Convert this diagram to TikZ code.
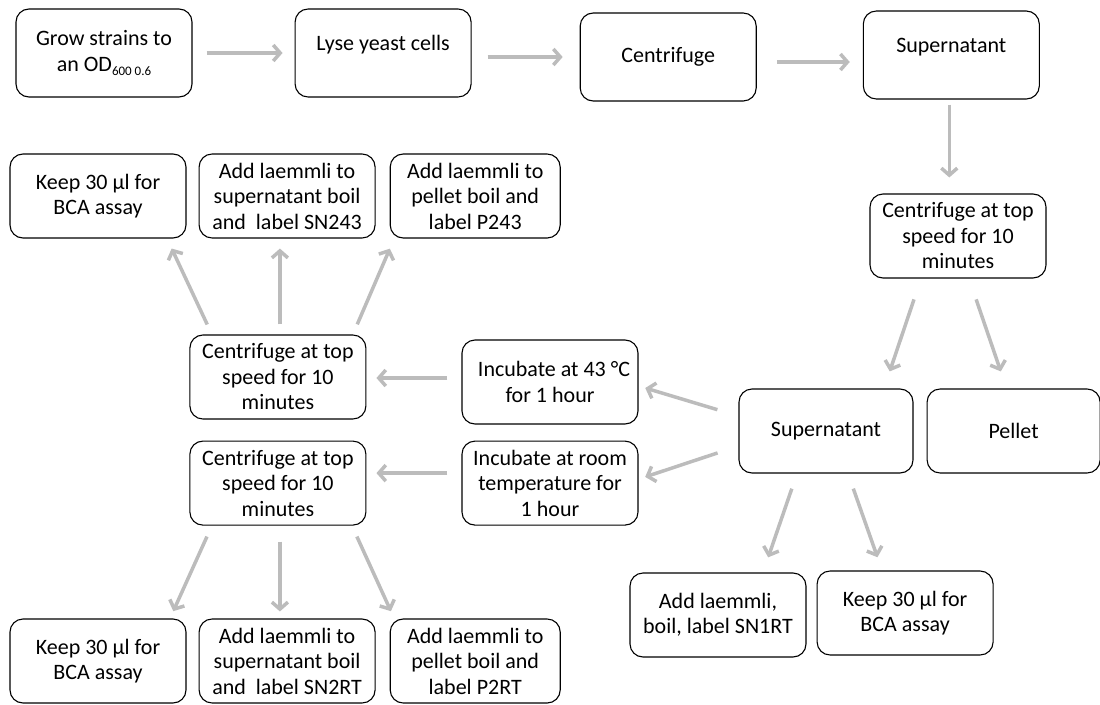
\documentclass[tikz,border=0pt]{standalone}
\usepackage{fontspec}
\setmainfont{Carlito}
\usepackage{xcolor}
\usepackage{tikz}
\usetikzlibrary{arrows.meta, positioning}

\definecolor{arrowgrey}{RGB}{188,188,188}
\newcommand{\lowtext}[1]{\raisebox{-0.35ex}{\fontsize{13}{13}\selectfont #1}}
\newcommand{\hightext}[1]{\raisebox{20pt}{#1}}

\begin{document}
\begin{tikzpicture}[
  x=1pt, y=-1pt,
  every node/.style={font=\fontsize{22}{25.5}\selectfont},
  stepblock/.style={rectangle, rounded corners=13pt, draw=black, line width=1.1pt,
                fill=white, inner sep=2pt, align=center,
                minimum width=176pt, minimum height=84pt},
  topblock/.style={stepblock, minimum height=88pt},
  arr/.style={-{Straight Barb[length=7pt, width=16pt]}, line width=3.5pt, arrowgrey}
]
  \useasboundingbox (0,0) rectangle (1100,704);

  \node[topblock] (A) at (104,53) {Grow strains to\\an OD\lowtext{600 0.6}};
  \node[topblock, right=102pt of A] (B) {\hightext{Lyse yeast cells}};
  \node[topblock, right=108pt of B, yshift=-4pt] (C) {Centrifuge};
  \node[topblock, right=106pt of C, yshift=2pt] (D) {\hightext{Supernatant}};

  \node[stepblock] (E) at (958,236) {Centrifuge at top\\speed for 10\\minutes};
  \node[stepblock, minimum width=174pt] (F) at (826,431) {Supernatant};
  \node[stepblock, minimum width=173pt, right=13pt of F] (G) {Pellet};
  \node[stepblock] (H) at (718,615) {Add laemmli,\\boil, label SN1RT};
  \node[stepblock, right=10pt of H, yshift=2pt] (I) {Keep 30 µl for\\BCA assay};

  \node[stepblock] (J) at (550,382) {\hspace{8pt}Incubate at 43 °C\\for 1 hour};
  \node[stepblock, below=16pt of J] (K) {Incubate at room\\temperature for\\1 hour};
  \node[stepblock, left=95pt of J, yshift=5pt] (L) {Centrifuge at top\\speed for 10\\minutes};
  \node[stepblock, left=95pt of K] (M) {Centrifuge at top\\speed for 10\\minutes};

  \node[stepblock] (N) at (98,196) {Keep 30 µl for\\BCA assay};
  \node[stepblock, right=12pt of N] (O) {Add laemmli to\\supernatant boil\\and\ \ label SN243};
  \node[stepblock, minimum width=170pt, right=14pt of O] (P) {Add laemmli to\\pellet boil and\\label P243};

  \node[stepblock] (Q) at (98,661) {Keep 30 µl for\\BCA assay};
  \node[stepblock, right=12pt of Q] (R) {Add laemmli to\\supernatant boil\\and\ \ label SN2RT};
  \node[stepblock, minimum width=170pt, right=14pt of R] (S) {Add laemmli to\\pellet boil and\\label P2RT};

  \draw[arr, shorten <=14pt, shorten >=12pt] (A.east) -- (B.west);
  \draw[arr, shorten <=16pt, shorten >=17pt] ([yshift=-4pt]B.east) -- ([yshift=-4pt]B.east -| C.west);
  \draw[arr, shorten <=20pt, shorten >=13pt] ([yshift=-5pt]C.east) -- ([yshift=-5pt]C.east -| D.west);
  \draw[arr, shorten <=5pt, shorten >=16pt] ([xshift=-2pt]D.south) -- ([xshift=-2pt]D.south |- E.north);
  \draw[arr, shorten <=22pt, shorten >=18pt] ([xshift=-37pt]E.south) -- ([xshift=58pt]F.north);
  \draw[arr, shorten <=22pt, shorten >=18pt] ([xshift=11pt]E.south) -- ([xshift=-7pt]G.north);
  \draw[arr, shorten <=22pt, shorten >=7pt] ([yshift=15pt]F.west) -- ([yshift=-4pt]J.east);
  \draw[arr, shorten <=22pt, shorten >=7pt] ([yshift=-15pt]F.west) -- ([yshift=4pt]K.east);
  \draw[arr, shorten <=16pt, shorten >=16pt] ([xshift=-29pt]F.south) -- ([xshift=45pt]H.north);
  \draw[arr, shorten <=16pt, shorten >=14pt] ([xshift=22pt]F.south) -- ([xshift=-23pt]I.north);
  \draw[arr, shorten <=14pt, shorten >=10pt] ([yshift=4pt]J.west) -- ([yshift=4pt]J.west -| L.east);
  \draw[arr, shorten <=14pt, shorten >=10pt] ([yshift=10pt]K.west) -- ([yshift=10pt]K.west -| M.east);
  \draw[arr, shorten <=11pt, shorten >=11pt] ([xshift=-66pt]L.north) -- ([xshift=69pt]N.south);
  \draw[arr, shorten <=10pt, shorten >=10pt] ([xshift=2pt]L.north) -- ([xshift=2pt]L.north |- O.south);
  \draw[arr, shorten <=11pt, shorten >=11pt] ([xshift=75pt]L.north) -- ([xshift=-81pt]P.south);
  \draw[arr, shorten <=12pt, shorten >=8pt] ([xshift=-66pt]M.south) -- ([xshift=72pt]Q.north);
  \draw[arr, shorten <=16pt, shorten >=7pt] ([xshift=2pt]M.south) -- ([xshift=2pt]M.south |- R.north);
  \draw[arr, shorten <=12pt, shorten >=8pt] ([xshift=74pt]M.south) -- ([xshift=-81pt]S.north);
\end{tikzpicture}
\end{document}
